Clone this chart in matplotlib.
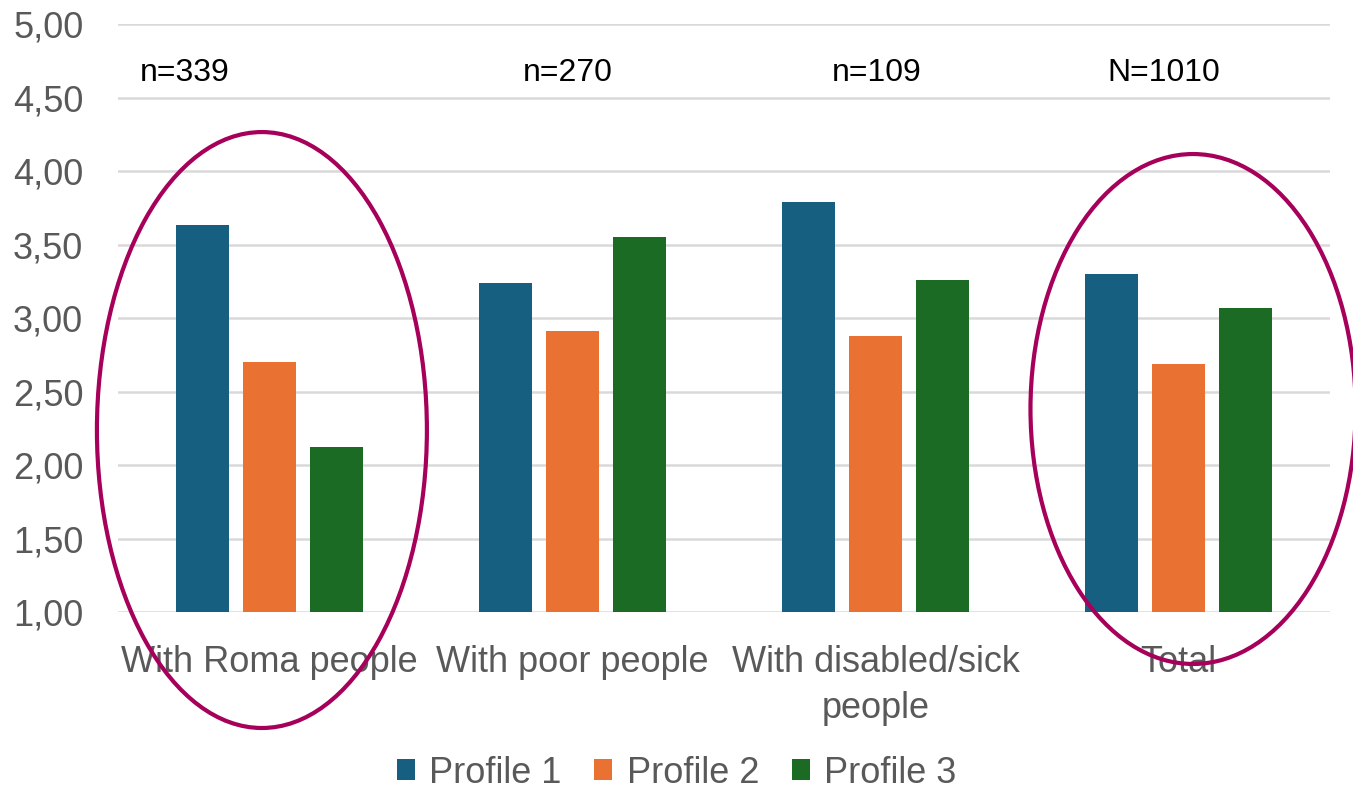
import matplotlib.pyplot as plt
import numpy as np
from matplotlib.patches import Ellipse

# Mean scores per group and profile
categories = ["With Roma people", "With poor people", "With disabled/sick\npeople", "Total"]
profiles = ["Profile 1", "Profile 2", "Profile 3"]
profile_1 = [3.63, 3.24, 3.79, 3.30]
profile_2 = [2.70, 2.91, 2.88, 2.69]
profile_3 = [2.12, 3.55, 3.26, 3.07]
sample_sizes = ["n=339", "n=270", "n=109", "N=1010"]
y_ticks = [1.0, 1.5, 2.0, 2.5, 3.0, 3.5, 4.0, 4.5, 5.0]

colors = ["#175F80", "#E97132", "#1C6B24"]
circle_color = "#A6005A"
text_gray = "#595959"

plt.rcParams['font.family'] = ['Liberation Sans', 'DejaVu Sans']

fig = plt.figure(figsize=(13.53, 7.9), dpi=100)
ax = fig.add_axes([0.0872, 0.2253, 0.8958, 0.7443])

x = np.arange(len(categories))
width = 0.175
step = 0.221
series = [profile_1, profile_2, profile_3]
for i, (vals, name) in enumerate(zip(series, profiles)):
    ax.bar(x + (i - 1) * step, np.array(vals) - 1.0, width, bottom=1.0,
           color=colors[i], label=name, zorder=3)

ax.set_xlim(-0.5, len(categories) - 0.5)
ax.set_ylim(1.0, 5.0)
ax.set_yticks(y_ticks)
ax.set_yticklabels([f"{t:.2f}".replace(".", ",") for t in y_ticks])
ax.set_xticks(x)
ax.set_xticklabels(categories, linespacing=1.4)
ax.tick_params(axis='y', length=0, pad=25, labelsize=26, labelcolor=text_gray)
ax.tick_params(axis='x', length=0, pad=24, labelsize=26, labelcolor=text_gray)
ax.grid(axis='y', color="#D9D9D9", linewidth=1.8, zorder=0)
for s in ax.spines.values():
    s.set_visible(False)

# sample sizes above the groups
label_x = [-0.28, 0.985, 2.005, 2.95]
for lx, txt in zip(label_x, sample_sizes):
    ax.text(lx, 4.67, txt, ha='center', va='center', fontsize=23, color='black')

# highlight ellipses
for cx, cy, w, h in [(-0.025, 2.238, 1.089, 4.054), (3.048, 2.381, 1.073, 3.469)]:
    ax.add_patch(Ellipse((cx, cy), w, h, fill=False, edgecolor=circle_color,
                         linewidth=3, clip_on=False, zorder=5))

fig.legend(loc='center', bbox_to_anchor=(0.5, 0.0215), ncol=3, frameon=False,
           fontsize=26, labelcolor=text_gray, handlelength=0.5, handleheight=0.5,
           handletextpad=0.4, columnspacing=0.9)

fig.savefig("out.png", dpi=100)
